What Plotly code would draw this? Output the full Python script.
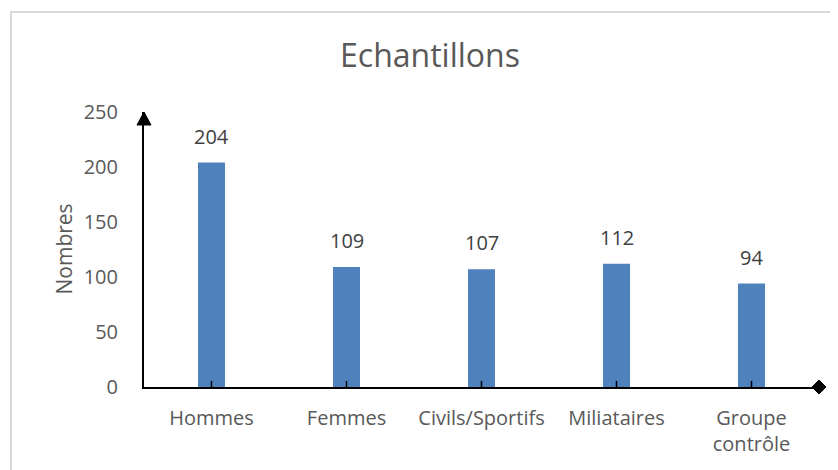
import plotly.graph_objects as go

categories = ["Hommes", "Femmes", "Civils/Sportifs", "Miliataires", "Groupe<br>contrôle"]
values = [204, 109, 107, 112, 94]
y_ticks = [0, 50, 100, 150, 200, 250]

OFF = 8  # default page margin of the html body
W, H = 838 - OFF, 470 - OFF
L, R, T, B = 144 - OFF, 19, 112 - OFF, 83
PW, PH = W - L - R, H - T - B
FONT = "Open Sans"
GRAY = "#595959"


def px_x(x):
    return (x - OFF - L) / PW


def px_y(y):
    return (H - B - (y - OFF)) / PH


fig = go.Figure()
fig.add_trace(go.Bar(
    x=categories, y=values,
    marker=dict(color="#4F81BD", line=dict(width=0)),
    width=0.2,
    hoverinfo="x+y",
))

annotations = []
for c, v in zip(categories, values):
    annotations.append(dict(
        x=c, y=v, xref="x", yref="y", text=str(v), showarrow=False,
        yanchor="bottom", yshift=11,
        font=dict(family=FONT, size=20, color="#404040"),
    ))
annotations.append(dict(
    x=px_x(63), y=0.5, xref="paper", yref="paper",
    text="Nombres", textangle=-90, showarrow=False,
    xanchor="center", yanchor="middle",
    font=dict(family=FONT, size=21, color=GRAY),
))

shapes = [
    # chart border
    dict(type="rect", xref="paper", yref="paper",
         x0=px_x(11), x1=px_x(860), y0=px_y(500), y1=px_y(12),
         line=dict(color="#D9D9D9", width=2), fillcolor="rgba(0,0,0,0)", layer="below"),
    # arrow head on y axis
    dict(type="path", xref="paper", yref="paper", xsizemode="pixel", ysizemode="pixel",
         xanchor=0, yanchor=1, path="M -7 -13 L 7 -13 L 0 0 Z",
         fillcolor="black", line=dict(color="black", width=1)),
    # diamond on x axis end
    dict(type="path", xref="paper", yref="paper", xsizemode="pixel", ysizemode="pixel",
         xanchor=1, yanchor=0, path="M -7 0 L 0 7 L 7 0 L 0 -7 Z",
         fillcolor="black", line=dict(color="black", width=1)),
]
# category tick marks drawn above the bars
for c in categories:
    shapes.append(dict(type="line", xref="x", yref="paper", ysizemode="pixel", yanchor=0,
                       x0=c, x1=c, y0=0, y1=6, line=dict(color="black", width=1.5)))

fig.update_layout(
    width=W, height=H,
    margin=dict(l=L, r=R, t=T, b=B),
    paper_bgcolor="white", plot_bgcolor="white",
    showlegend=False,
    title=dict(text="Echantillons", x=(430 - OFF) / W, xanchor="center",
               y=1 - (56 - OFF) / H, yanchor="middle", yref="container",
               font=dict(family=FONT, size=32, color=GRAY)),
    font=dict(family=FONT, color=GRAY),
    annotations=annotations,
    shapes=shapes,
)
fig.update_xaxes(
    showline=True, linecolor="black", linewidth=2,
    ticks="",
    tickfont=dict(family=FONT, size=20, color=GRAY),
    ticklabelstandoff=12,
    showgrid=False, zeroline=False, fixedrange=True,
)
fig.update_yaxes(
    range=[0, 250], tickvals=y_ticks,
    showline=True, linecolor="black", linewidth=2,
    ticks="", showgrid=False, zeroline=False,
    tickfont=dict(family=FONT, size=20, color=GRAY),
    ticklabelstandoff=20,
)

fig.write_html("out.html")
